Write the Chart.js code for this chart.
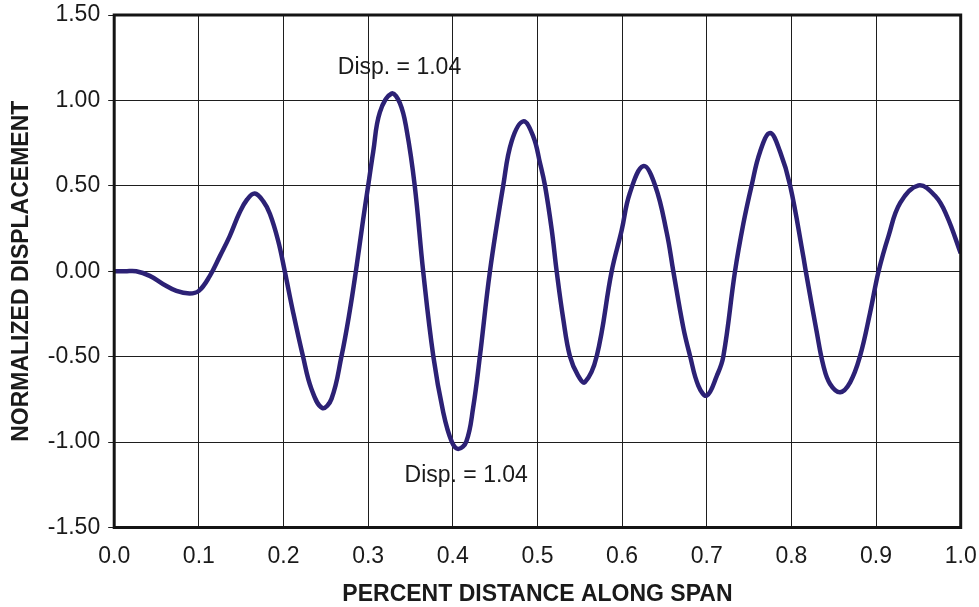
<!DOCTYPE html>
<html>
<head>
<meta charset="utf-8">
<script src="https://cdn.jsdelivr.net/npm/chart.js@4/dist/chart.umd.min.js"></script>
<style>
  html, body { margin: 0; padding: 0; background: #ffffff; }
  #wrap { width: 979px; height: 607px; position: relative; }
</style>
</head>
<body>
<div id="wrap"><canvas id="chart" width="979" height="607"></canvas></div>
<script>
// Position along the span (fraction of span length)
const spanPositions = [
  0.000, 0.013, 0.026, 0.042, 0.058, 0.0735, 0.089, 0.100, 0.113,
  0.125, 0.1365, 0.148, 0.157, 0.166, 0.176, 0.184, 0.1936, 0.2015, 0.2114,
  0.223, 0.233, 0.2457, 0.2567, 0.2685, 0.278, 0.2855, 0.294, 0.300, 0.306,
  0.3138, 0.3276, 0.3375, 0.3454, 0.355, 0.365, 0.377, 0.3887, 0.3986, 0.4064,
  0.416, 0.424, 0.432, 0.4439, 0.4596, 0.4695, 0.4832, 0.495, 0.503, 0.5089, 0.5168,
  0.5227, 0.5305, 0.5384, 0.548, 0.556, 0.570, 0.5877, 0.5995, 0.609, 0.625,
  0.639, 0.6527, 0.6605, 0.6723, 0.680, 0.690, 0.700, 0.712, 0.7196, 0.7334,
  0.7433, 0.753, 0.763, 0.7748, 0.7866, 0.7985, 0.814, 0.817, 0.830, 0.8378,
  0.8457, 0.8576, 0.8694, 0.881, 0.893, 0.903, 0.9147, 0.9285, 0.950, 0.970,
  0.9837, 1.000
];

// Normalized displacement at each position
const displacements = [
  0.000, 0.000, 0.000, -0.027, -0.076, -0.115, -0.130, -0.115, -0.027,
  0.090, 0.206, 0.342, 0.420, 0.455, 0.410, 0.335, 0.180, 0.000, -0.241,
  -0.498, -0.689, -0.800, -0.747, -0.498, -0.241, 0.000, 0.300, 0.500, 0.700,
  0.930, 1.040, 0.984, 0.829, 0.502, 0.000, -0.498, -0.825, -0.996, -1.040,
  -0.996, -0.800, -0.498, 0.000, 0.502, 0.760, 0.877, 0.790, 0.634, 0.502, 0.245,
  0.000, -0.280, -0.498, -0.611, -0.650, -0.498, 0.000, 0.240, 0.455, 0.615,
  0.502, 0.226, 0.000, -0.330, -0.490, -0.669, -0.728, -0.611, -0.498, 0.000,
  0.280, 0.502, 0.700, 0.809, 0.700, 0.502, 0.089, 0.000, -0.358, -0.553,
  -0.660, -0.708, -0.650, -0.498, -0.241, 0.000, 0.206, 0.400, 0.502, 0.440,
  0.323, 0.105
];

// Axis ranges and tick steps
const xTickRange = [0, 1, 0.1];
const yTickRange = [-1.5, 1.5, 0.5];

const xTitle = 'PERCENT DISTANCE ALONG SPAN';
const yTitle = 'NORMALIZED DISPLACEMENT';
const calloutPrefix = 'Disp. = ';

const FONT = '"Liberation Sans", Arial, Helvetica, sans-serif';
const INK = '#1a1a1a';
const GRID = '#1e1e1e';
const CURVE = '#2c2175';

const points = spanPositions.map((x, i) => ({ x, y: displacements[i] }));

// Thick frame around the plotting area
const framePlugin = {
  id: 'frame',
  afterDraw(chart) {
    const { ctx, chartArea: a } = chart;
    ctx.save();
    ctx.strokeStyle = '#141414';
    ctx.lineWidth = 3;
    ctx.strokeRect(a.left, a.top, a.right - a.left, a.bottom - a.top);
    ctx.restore();
  }
};

// Value callouts at the largest crest and deepest trough
const calloutPlugin = {
  id: 'callouts',
  afterDatasetsDraw(chart) {
    const { ctx, scales } = chart;
    let hi = 0, lo = 0;
    displacements.forEach((v, i) => {
      if (v > displacements[hi]) hi = i;
      if (v < displacements[lo]) lo = i;
    });
    ctx.save();
    ctx.font = '23px ' + FONT;
    ctx.fillStyle = INK;
    ctx.textAlign = 'center';
    ctx.textBaseline = 'middle';
    const hx = scales.x.getPixelForValue(spanPositions[hi]);
    const hy = scales.y.getPixelForValue(displacements[hi]);
    ctx.fillText(calloutPrefix + Math.abs(displacements[hi]).toFixed(2), hx + 8, hy - 26);
    const lx = scales.x.getPixelForValue(spanPositions[lo]);
    const ly = scales.y.getPixelForValue(displacements[lo]);
    ctx.fillText(calloutPrefix + Math.abs(displacements[lo]).toFixed(2), lx + 8, ly + 27);
    ctx.restore();
  }
};

new Chart(document.getElementById('chart'), {
  type: 'scatter',
  data: {
    datasets: [{
      data: points,
      showLine: true,
      borderColor: CURVE,
      borderWidth: 4.5,
      pointRadius: 0,
      tension: 0.4,
      fill: false
    }]
  },
  options: {
    responsive: false,
    animation: false,
    layout: { padding: { top: 15, right: 18.3, left: 0, bottom: 0 } },
    plugins: {
      legend: { display: false },
      tooltip: { enabled: false }
    },
    scales: {
      x: {
        type: 'linear',
        min: xTickRange[0],
        max: xTickRange[1],
        afterFit(scale) {
          scale.height = 79.5;
          scale.paddingLeft = 0;
          scale.paddingRight = 0;
        },
        grid: { color: GRID, lineWidth: 1, drawTicks: false },
        border: { display: false },
        ticks: {
          stepSize: xTickRange[2],
          padding: 18,
          color: INK,
          font: { family: FONT, size: 23, lineHeight: 1 },
          maxRotation: 0,
          callback: v => Number(v).toFixed(1)
        },
        title: {
          display: true,
          text: xTitle,
          color: INK,
          font: { family: FONT, size: 23, weight: 'bold', lineHeight: 1 },
          padding: { top: 0, bottom: 1 }
        }
      },
      y: {
        type: 'linear',
        min: yTickRange[0],
        max: yTickRange[1],
        afterFit(scale) {
          scale.width = 114.2;
          scale.paddingTop = 0;
          scale.paddingBottom = 0;
        },
        grid: { color: GRID, lineWidth: 1, drawTicks: true, tickLength: 6 },
        border: { display: false },
        ticks: {
          stepSize: yTickRange[2],
          padding: 8,
          color: INK,
          font: { family: FONT, size: 23, lineHeight: 1 },
          callback: v => Number(v).toFixed(2)
        },
        title: {
          display: true,
          text: yTitle,
          color: INK,
          font: { family: FONT, size: 23, weight: 'bold', lineHeight: 1 },
          padding: { top: 10, bottom: 0 }
        }
      }
    }
  },
  plugins: [framePlugin, calloutPlugin]
});
</script>
</body>
</html>
